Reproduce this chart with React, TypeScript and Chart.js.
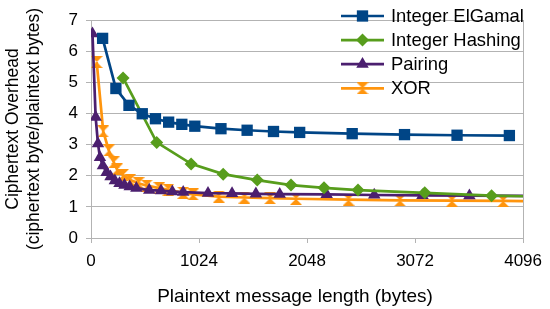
import React, { useEffect, useRef } from 'react';
import { Chart, registerables } from 'chart.js';

Chart.register(...registerables);

// Plaintext message length (bytes) and ciphertext overhead per series
const elgamalX = [110, 236, 360, 486, 611, 736, 861, 984, 1232, 1480, 1730, 1978, 2476, 2972, 3470, 3966];
const elgamalY = [6.41, 4.8, 4.26, 3.99, 3.83, 3.72, 3.65, 3.59, 3.51, 3.46, 3.42, 3.39, 3.35, 3.32, 3.3, 3.29];

const hashingX = [304, 623, 949, 1253, 1576, 1896, 2209, 2531, 3164, 3797, 5060];
const hashingY = [5.14, 3.07, 2.38, 2.05, 1.86, 1.7, 1.61, 1.54, 1.45, 1.36, 1.28];

const pairingX = [14, 44, 66, 85, 113, 148, 185, 226, 270, 317, 367, 430, 552, 664, 771, 874, 1109, 1337, 1563, 1789, 2234, 2685, 3142, 3587, 4480];
const pairingY = [6.56, 3.88, 3.03, 2.59, 2.32, 2.11, 1.97, 1.84, 1.75, 1.7, 1.65, 1.6, 1.54, 1.52, 1.49, 1.47, 1.44, 1.43, 1.42, 1.41, 1.4, 1.38, 1.37, 1.36, 1.35];

const xorX = [54, 116, 169, 216, 247, 303, 372, 451, 529, 648, 733, 874, 968, 1212, 1454, 1698, 1943, 2441, 2929, 3421, 3907, 4870];
const xorY = [5.65, 3.42, 2.81, 2.43, 2.2, 2.02, 1.86, 1.76, 1.68, 1.6, 1.55, 1.45, 1.4, 1.33, 1.3, 1.28, 1.26, 1.23, 1.21, 1.2, 1.19, 1.17];

const seriesNames = ['Integer ElGamal', 'Integer Hashing', 'Pairing', 'XOR'];
const seriesColors = ['#004586', '#579d1c', '#4b1f6f', '#ff950e'];

const xTicks = [0, 1024, 2048, 3072, 4096];
const yMin = 0;
const yMax = 7;

const xTitle = 'Plaintext message length (bytes)';
const yTitle = ['Ciphertext Overhead', '(ciphertext byte/plaintext bytes)'];

const FONT = "'Liberation Sans', Arial, sans-serif";
const GRID = '#b3b3b3';

function toPoints(xs: number[], ys: number[]) {
  return xs.map((x, i) => ({ x, y: ys[i] }));
}

function makeHourglass(color: string, w: number, h: number) {
  const c = document.createElement('canvas');
  c.width = w;
  c.height = h;
  const g = c.getContext('2d')!;
  g.fillStyle = color;
  g.beginPath();
  g.moveTo(0, 0);
  g.lineTo(w, 0);
  g.lineTo(w / 2, h / 2);
  g.closePath();
  g.fill();
  g.beginPath();
  g.moveTo(0, h);
  g.lineTo(w, h);
  g.lineTo(w / 2, h / 2);
  g.closePath();
  g.fill();
  return c;
}

const R_RECT = 8;
const R_DIAM = 6.5;
const R_TRI = 7.2;

function drawMarker(ctx: CanvasRenderingContext2D, kind: number, x: number, y: number, color: string, hg: HTMLCanvasElement) {
  ctx.save();
  ctx.fillStyle = color;
  ctx.beginPath();
  if (kind === 0) {
    const s = R_RECT * Math.SQRT1_2;
    ctx.rect(x - s, y - s, 2 * s, 2 * s);
    ctx.fill();
  } else if (kind === 1) {
    const r = R_DIAM;
    ctx.moveTo(x - r, y);
    ctx.lineTo(x, y - r);
    ctx.lineTo(x + r, y);
    ctx.lineTo(x, y + r);
    ctx.closePath();
    ctx.fill();
  } else if (kind === 2) {
    const r = R_TRI;
    let a = 0;
    ctx.moveTo(x + Math.sin(a) * r, y - Math.cos(a) * r);
    a += (2 * Math.PI) / 3;
    ctx.lineTo(x + Math.sin(a) * r, y - Math.cos(a) * r);
    a += (2 * Math.PI) / 3;
    ctx.lineTo(x + Math.sin(a) * r, y - Math.cos(a) * r);
    ctx.closePath();
    ctx.fill();
  } else {
    ctx.drawImage(hg, x - hg.width / 2, y - hg.height / 2);
  }
  ctx.restore();
}

export default function App() {
  const ref = useRef<HTMLCanvasElement | null>(null);

  useEffect(() => {
    if (!ref.current) return;
    const hourglass = makeHourglass(seriesColors[3], 12, 12);

    const overlayPlugin = {
      id: 'overlay',
      afterDraw(chart: any) {
        const ctx: CanvasRenderingContext2D = chart.ctx;
        ctx.save();
        // legend
        const x0 = 341;
        const x1 = 384;
        const tx = 391;
        const y0 = 16;
        const dy = 24.1;
        seriesNames.forEach((name, i) => {
          const y = y0 + dy * i;
          ctx.strokeStyle = seriesColors[i];
          ctx.lineWidth = 2.7;
          ctx.beginPath();
          ctx.moveTo(x0, y);
          ctx.lineTo(x1, y);
          ctx.stroke();
          drawMarker(ctx, i, (x0 + x1) / 2, y, seriesColors[i], hourglass);
          ctx.fillStyle = '#000';
          ctx.font = `18.4px ${FONT}`;
          ctx.textBaseline = 'middle';
          ctx.textAlign = 'left';
          ctx.fillText(name, tx, y + 1);
        });
        // x axis title
        ctx.fillStyle = '#000';
        ctx.font = `19px ${FONT}`;
        ctx.textAlign = 'center';
        ctx.textBaseline = 'middle';
        ctx.fillText(xTitle, 295, 297);
        // y axis title (two lines, rotated)
        ctx.font = `17.5px ${FONT}`;
        const centers = [13, 34];
        yTitle.forEach((t, i) => {
          ctx.save();
          ctx.translate(centers[i], 129);
          ctx.rotate(-Math.PI / 2);
          ctx.fillText(t, 0, 0);
          ctx.restore();
        });
        ctx.restore();
      },
    };

    const common = {
      borderWidth: 2.7,
      tension: 0,
      fill: false,
      pointBorderWidth: 0,
      pointHoverRadius: 0,
    };

    const chart = new Chart(ref.current, {
      type: 'line',
      data: {
        datasets: [
          {
            ...common,
            label: seriesNames[0],
            data: toPoints(elgamalX, elgamalY),
            borderColor: seriesColors[0],
            backgroundColor: seriesColors[0],
            pointBackgroundColor: seriesColors[0],
            pointStyle: 'rect',
            pointRadius: R_RECT,
          },
          {
            ...common,
            label: seriesNames[1],
            data: toPoints(hashingX, hashingY),
            borderColor: seriesColors[1],
            backgroundColor: seriesColors[1],
            pointBackgroundColor: seriesColors[1],
            pointStyle: 'rectRot',
            pointRadius: R_DIAM,
          },
          {
            ...common,
            label: seriesNames[2],
            data: toPoints(pairingX, pairingY),
            borderColor: seriesColors[2],
            backgroundColor: seriesColors[2],
            pointBackgroundColor: seriesColors[2],
            pointStyle: 'triangle',
            pointRadius: R_TRI,
          },
          {
            ...common,
            label: seriesNames[3],
            data: toPoints(xorX, xorY),
            borderColor: seriesColors[3],
            backgroundColor: seriesColors[3],
            pointStyle: hourglass as any,
            pointRadius: 6,
          },
        ],
      },
      options: {
        animation: false,
        responsive: false,
        devicePixelRatio: 1,
        events: [],
        layout: { padding: { left: 0, right: 23, top: 20, bottom: 0 } },
        plugins: {
          legend: { display: false },
          tooltip: { enabled: false },
        },
        scales: {
          x: {
            type: 'linear',
            min: xTicks[0],
            max: xTicks[xTicks.length - 1],
            afterBuildTicks: (scale: any) => {
              scale.ticks = xTicks.map((v) => ({ value: v }));
            },
            afterFit: (scale: any) => {
              scale.height = 71;
            },
            ticks: {
              autoSkip: false,
              maxRotation: 0,
              color: '#000',
              padding: 8,
              font: { family: FONT, size: 17 },
              callback: (v: any) => String(v),
            },
            grid: {
              color: (c: any) => (c.tick && c.tick.value === 4096 ? GRID : 'rgba(0,0,0,0)'),
              tickColor: GRID,
              tickLength: 5,
              lineWidth: 1,
            },
            border: { color: GRID, width: 1 },
            title: { display: false },
          },
          y: {
            type: 'linear',
            min: yMin,
            max: yMax,
            afterFit: (scale: any) => {
              scale.width = 91;
            },
            ticks: {
              stepSize: 1,
              color: '#000',
              padding: 8,
              font: { family: FONT, size: 17 },
              callback: (v: any) => String(v),
            },
            grid: {
              color: GRID,
              tickColor: GRID,
              tickLength: 5,
              lineWidth: 1,
            },
            border: { color: GRID, width: 1 },
            title: { display: false },
          },
        },
      },
      plugins: [overlayPlugin],
    } as any);

    return () => chart.destroy();
  }, []);

  return (
    <div style={{ position: 'absolute', left: 0, top: 0, width: 550, height: 309, background: '#fff' }}>
      <canvas ref={ref} width={550} height={309} style={{ display: 'block' }} />
    </div>
  );
}
